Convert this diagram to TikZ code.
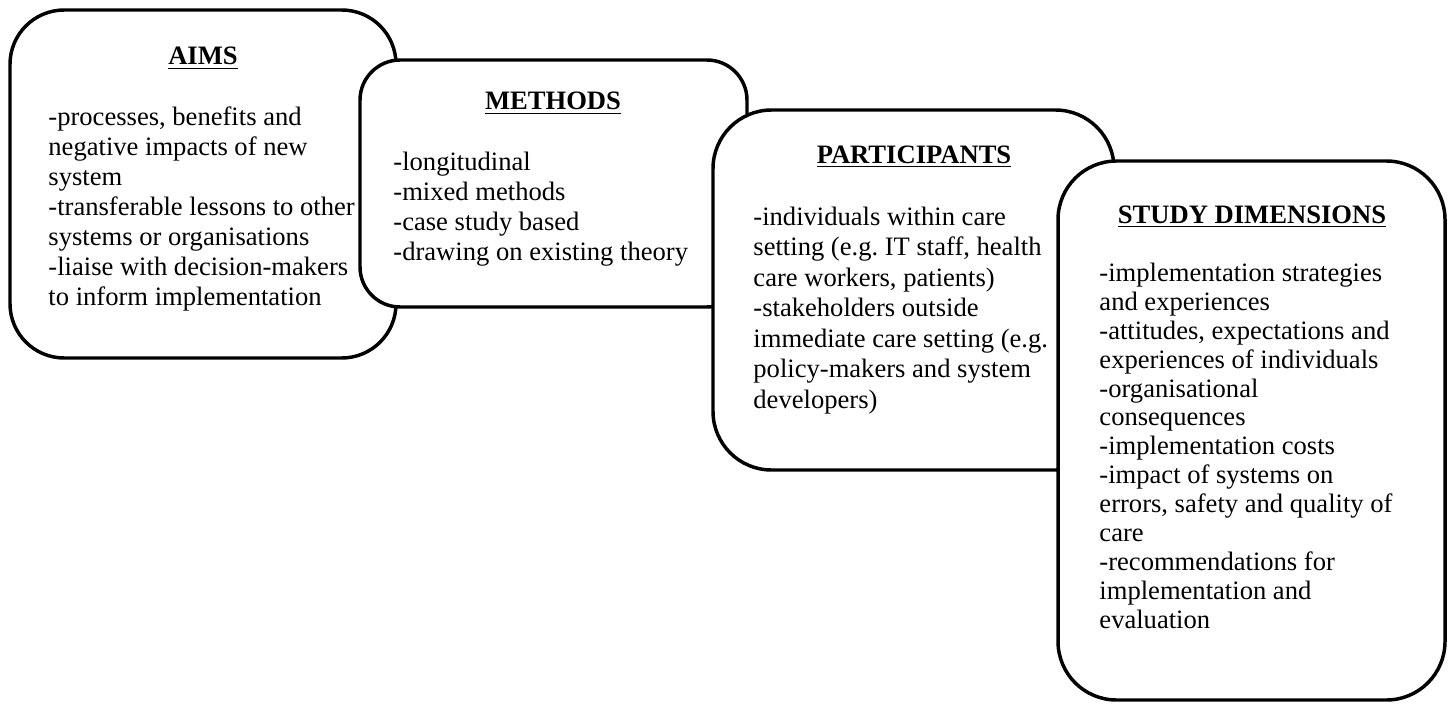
\documentclass[tikz,border=0pt]{standalone}
\usepackage{fontspec}
\setmainfont{Liberation Serif}
\frenchspacing
\begin{document}
\tikzset{
  panel/.style={draw, line width=1.6pt, fill=white, line join=round},
  heading/.style={font=\fontsize{12.25pt}{13.8pt}\selectfont\bfseries, inner sep=0pt, anchor=base},
  % the base anchor of a multi-line node sits on its last line
  body/.style={font=\fontsize{12.25pt}{13.82pt}\selectfont, align=left, inner sep=0pt, anchor=base west},
}
\begin{tikzpicture}[x=0.4608pt, y=-0.4608pt]
\useasboundingbox (0,0) rectangle (1451,704);

% Aims
\draw[panel, rounded corners=25pt] (10,10) rectangle (396,358);
\node[heading] (aimsT) at (203,65) {\underline{AIMS}};
\node[body] (aimsB) at (48,305) {-processes, benefits and\\negative impacts of new\\system\\-transferable lessons to other\\systems or organisations\\-liaise with decision-makers\\to inform implementation};

% Methods
\draw[panel, rounded corners=18.5pt] (360,60) rectangle (747,307);
\node[heading] (methT) at (553,110) {\underline{METHODS}};
\node[body] (methB) at (393,260) {-longitudinal\\-mixed methods\\-case study based\\-drawing on existing theory};

% Participants
\draw[panel, rounded corners=27pt] (713,110) rectangle (1114,470);
\node[heading] (partT) at (914,163) {\underline{PARTICIPANTS}};
\node[body, font=\fontsize{12.25pt}{14.05pt}\selectfont] (partB) at (753,408) {-individuals within care\\setting (e.g. IT staff, health\\care workers, patients)\\-stakeholders outside\\immediate care setting (e.g.\\policy-makers and system\\developers)};

% Study dimensions
\draw[panel, rounded corners=27pt] (1058,161) rectangle (1445,700);
\node[heading] (dimT) at (1252,223) {\underline{STUDY DIMENSIONS}};
\node[body, font=\fontsize{12.25pt}{13.3pt}\selectfont] (dimB) at (1099,628) {-implementation strategies\\and experiences\\-attitudes, expectations and\\experiences of individuals\\-organisational\\consequences\\-implementation costs\\-impact of systems on\\errors, safety and quality of\\care\\-recommendations for\\implementation and\\evaluation};
\end{tikzpicture}
\end{document}
